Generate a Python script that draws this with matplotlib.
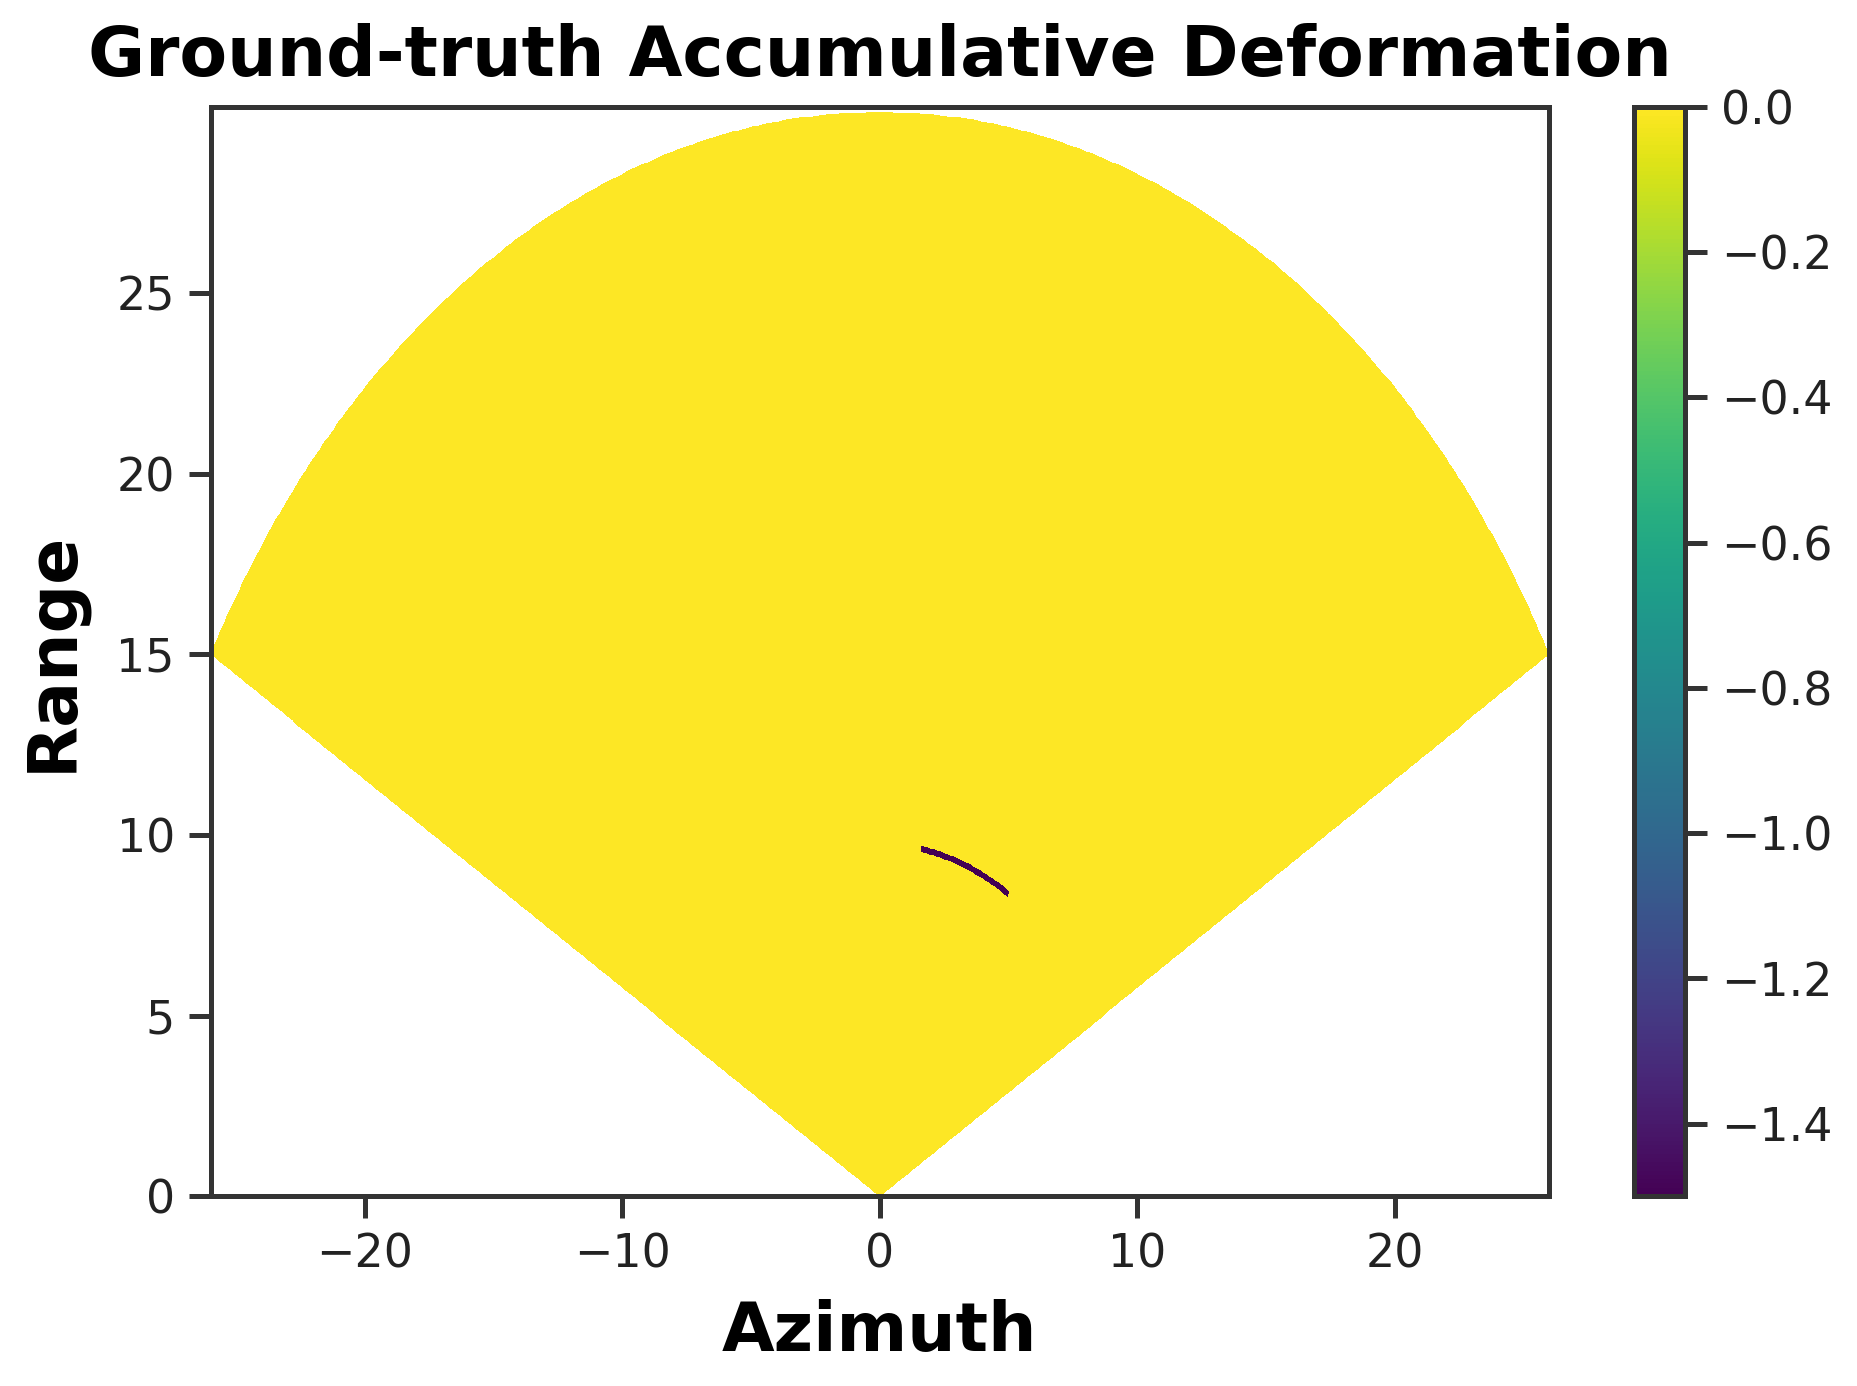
import numpy as np
import matplotlib
matplotlib.use("Agg")
import matplotlib.pyplot as plt

# ---- data ----
range_max = 30.0                 # max range
azimuth_half_span_deg = 60.0     # sector half-angle
n_range_cells = 180
n_azimuth_cells = 240
background_value = 0.0
arc_range = 9.78                 # deformation arc range
arc_az_start_deg = 9.3
arc_az_end_deg = 30.8
arc_value = -1.5
vmin, vmax = -1.5, 0.0
xticks = [-20, -10, 0, 10, 20]
yticks = [0, 5, 10, 15, 20, 25]
cbar_ticks = [0.0, -0.2, -0.4, -0.6, -0.8, -1.0, -1.2, -1.4]

# ---- build polar grid ----
r_edges = np.linspace(0, range_max, n_range_cells + 1)
th_edges = np.deg2rad(np.linspace(-azimuth_half_span_deg, azimuth_half_span_deg, n_azimuth_cells + 1))
R, TH = np.meshgrid(r_edges, th_edges, indexing="ij")
X = R * np.sin(TH)
Y = R * np.cos(TH)
r_c = 0.5 * (r_edges[:-1] + r_edges[1:])
th_c = np.rad2deg(0.5 * (th_edges[:-1] + th_edges[1:]))
Z = np.full((n_range_cells, n_azimuth_cells), background_value)
ri = np.argmin(np.abs(r_c - arc_range))
mask_th = (th_c >= arc_az_start_deg) & (th_c <= arc_az_end_deg)
Z[ri, mask_th] = arc_value

# ---- plot ----
fig = plt.figure(figsize=(18.57, 13.86), dpi=100)
ax = fig.add_axes([0.1136, 0.137, 0.7204, 0.7858])
cax = fig.add_axes([0.880, 0.137, 0.0275, 0.7858])

pc = ax.pcolormesh(X, Y, Z, cmap="viridis", vmin=vmin, vmax=vmax,
                   shading="flat", antialiased=False, edgecolors="none")
ax.set_xlim(-range_max * np.sin(np.deg2rad(azimuth_half_span_deg)),
            range_max * np.sin(np.deg2rad(azimuth_half_span_deg)))
ax.set_ylim(0, 30.15)
ax.set_xticks(xticks)
ax.set_yticks(yticks)

spine_c = "#333333"
tick_fs = 33
for a in (ax, cax):
    for s in a.spines.values():
        s.set_linewidth(3.6)
        s.set_color(spine_c)
    a.tick_params(length=16, width=3.6, color=spine_c, labelsize=tick_fs,
                  labelcolor="#222222", pad=10)

ax.set_title("Ground-truth Accumulative Deformation", fontsize=50,
             fontweight="bold", pad=22)
ax.set_xlabel("Azimuth", fontsize=49, fontweight="bold", labelpad=16)
ax.set_ylabel("Range", fontsize=49, fontweight="bold", labelpad=22)

cb = fig.colorbar(pc, cax=cax, ticks=cbar_ticks)
cb.outline.set_linewidth(3.6)
cb.outline.set_edgecolor(spine_c)
cax.tick_params(length=16, width=3.6, color=spine_c, labelsize=tick_fs,
                labelcolor="#222222", pad=10)

fig.savefig("out.png", dpi=100)
